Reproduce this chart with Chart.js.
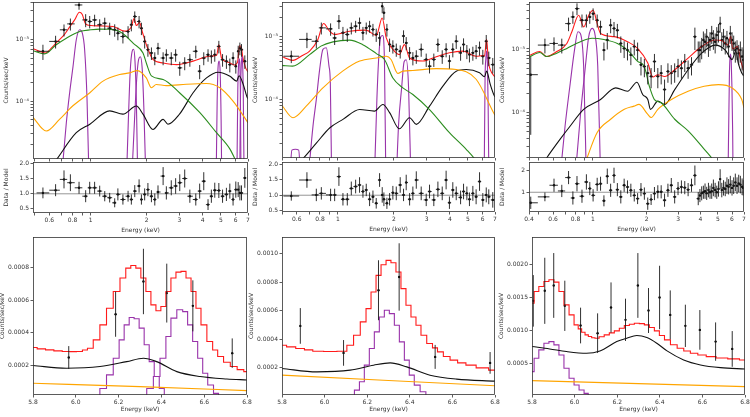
<!DOCTYPE html>
<html>
<head>
<meta charset="utf-8">
<script src="https://cdn.jsdelivr.net/npm/chart.js@4"></script>
<style>
  body { margin: 0; background: #fff; }
  #wrap { position: relative; width: 750px; height: 417px; overflow: hidden; background: #fff; }
  canvas { position: absolute; }
</style>
</head>
<body>
<div id="wrap"></div>
<script>
// ---- axis ticks and labels ----
const energyTicks = [0.5, 0.6, 0.7, 0.8, 0.9, 1, 2, 3, 4, 5, 6, 7]
const energyLabels = ['', '0.6', '', '0.8', '', '1', '2', '3', '4', '5', '6', '7']
const trEnergyTicks = [0.44, 0.5, 0.6, 0.7, 0.8, 0.9, 1, 2, 3, 4, 5, 6, 7]
const trEnergyLabels = ['0.4', '', '0.6', '', '0.8', '', '1', '2', '3', '4', '5', '6', '7']
const specYTicks = [1e-5, 2e-5, 3e-5, 4e-5, 5e-5, 6e-5, 7e-5, 8e-5, 9e-5, 1e-4, 2e-4, 3e-4, 4e-4, 5e-4, 6e-4, 7e-4, 8e-4, 9e-4, 1e-3, 2e-3, 3e-3, 4e-3, 5e-3]
const specYLabels = ['10⁻⁵', '', '', '', '', '', '', '', '', '10⁻⁴', '', '', '', '', '', '', '', '', '10⁻³', '', '', '', '']
const residTicks = [0.5, 1.0, 1.5, 2.0]
const residLabels = ['0.5', '1.0', '1.5', '2.0']
const trResidTicks = [1, 2]
const trResidLabels = ['1', '2']
const feTicks = [5.8, 6.0, 6.2, 6.4, 6.6, 6.8]
const feLabels = ['5.8', '6.0', '6.2', '6.4', '6.6', '6.8']
const blYTicks = [0.0002, 0.0004, 0.0006, 0.0008]
const blYLabels = ['0.0002', '0.0004', '0.0006', '0.0008']
const bmYTicks = [0.0002, 0.0004, 0.0006, 0.0008, 0.0010]
const bmYLabels = ['0.0002', '0.0004', '0.0006', '0.0008', '0.0010']
const brYTicks = [0.0005, 0.0010, 0.0015, 0.0020]
const brYLabels = ['0.0005', '0.0010', '0.0015', '0.0020']
const unity = 1

// ---- top left spectrum ----
const tlRed = [[0.49,7.2e-4],[0.53,6.5e-4],[0.57,6.1e-4],[0.62,7.5e-4],[0.66,9.2e-4],[0.72,1.2e-3],[0.77,1.6e-3],[0.82,2.1e-3],[0.87,2.8e-3],[0.9,2.6e-3],[0.94,1.8e-3],[1.0,1.7e-3],[1.12,1.68e-3],[1.32,1.64e-3],[1.52,1.38e-3],[1.65,1.6e-3],[1.71,2.2e-3],[1.76,1.7e-3],[1.83,1.9e-3],[1.9,1.3e-3],[2.0,8e-4],[2.16,4.8e-4],[2.45,4.2e-4],[2.9,3.95e-4],[3.55,4.5e-4],[4.36,5.4e-4],[4.75,5.6e-4],[4.88,8.3e-4],[5.05,5.0e-4],[5.5,4.3e-4],[5.9,3.9e-4],[6.15,4.3e-4],[6.3,8e-4],[6.45,7.5e-4],[6.55,5.4e-4],[6.8,3.5e-4],[7.0,3.0e-4]]
const tlGreen = [[0.49,6.65e-4],[0.566,5.9e-4],[0.65,8.2e-4],[0.74,1.06e-3],[0.873,1.36e-3],[1.0,1.45e-3],[1.12,1.49e-3],[1.25,1.48e-3],[1.43,1.36e-3],[1.555,1.13e-3],[1.69,8.8e-4],[1.91,6.1e-4],[2.0,4.0e-4],[2.12,2.6e-4],[2.45,2.27e-4],[3.0,1.38e-4],[3.85,6.6e-5],[4.74,3.1e-5],[5.6,1.68e-5],[5.95,1.17e-5],[6.3,8e-6]]
const tlOrange = [[0.49,5.5e-5],[0.577,3.3e-5],[0.68,5.1e-5],[0.80,8.4e-5],[0.99,1.38e-4],[1.165,2.13e-4],[1.43,2.72e-4],[1.62,2.9e-4],[1.78,3.16e-4],[1.99,2.4e-4],[2.12,1.66e-4],[2.25,1.88e-4],[2.55,1.8e-4],[3.27,1.9e-4],[4.19,1.95e-4],[4.94,1.66e-4],[5.83,1.0e-4],[6.81,5.1e-5],[7.0,4.5e-5]]
const tlBlack = [[0.62,9e-6],[0.66,1.17e-5],[0.837,3.1e-5],[0.99,4.26e-5],[1.265,7.0e-5],[1.49,6.2e-5],[1.76,8.4e-5],[1.91,6.2e-5],[2.16,3.5e-5],[2.45,5.1e-5],[2.6,4.26e-5],[3.0,6.2e-5],[3.55,1.38e-4],[4.19,2.4e-4],[4.84,2.97e-4],[5.6,2.56e-4],[6.08,2.13e-4],[6.27,2.6e-4],[6.6,1.88e-4],[6.9,1.2e-4],[7.0,1.1e-4]]
const tlLines = [
  [[0.695,5e-6],[0.74,4.5e-5],[0.771,1.38e-4],[0.804,3.7e-4],[0.837,1.0e-3],[0.873,1.45e-3],[0.902,1.28e-3],[0.928,6.9e-4],[0.956,1.08e-4],[0.98,5e-6]],
  [[1.555,5e-6],[1.59,4e-5],[1.63,3e-4],[1.67,6.5e-4],[1.70,7e-4],[1.73,4.5e-4],[1.76,1e-4],[1.79,5e-6]],
  [[1.66,5e-6],[1.72,5e-5],[1.77,2.5e-4],[1.81,4.8e-4],[1.85,5.3e-4],[1.89,3.5e-4],[1.93,8e-5],[1.98,5e-6]],
  [[4.72,5e-6],[4.78,1e-4],[4.84,3.8e-4],[4.9,4.5e-4],[4.96,3e-4],[5.02,5e-5],[5.06,5e-6]],
  [[6.10,5e-6],[6.17,1.5e-4],[6.22,3.6e-4],[6.27,4.9e-4],[6.32,4.3e-4],[6.37,1.4e-4],[6.42,5e-6]],
  [[6.32,5e-6],[6.38,1.3e-4],[6.44,3.8e-4],[6.49,5.4e-4],[6.54,4.5e-4],[6.6,1.5e-4],[6.67,5e-6]]
]
const tlE = [0.554,0.648,0.719,0.778,0.866,0.94,0.988,1.05,1.118,1.19,1.265,1.346,1.40,1.49,1.588,1.654,1.725,1.82,1.873,1.95,2.03,2.12,2.21,2.30,2.45,2.55,2.71,2.86,3.01,3.20,3.41,3.67,3.85,4.05,4.27,4.45,4.64,4.88,5.11,5.36,5.59,5.82,6.02,6.2,6.33,6.46,6.73]
const tlRate = [6.5e-4,9.4e-4,1.45e-3,1.81e-3,3.67e-3,2.1e-3,1.98e-3,2.1e-3,1.75e-3,1.86e-3,1.54e-3,1.45e-3,1.28e-3,1.13e-3,1.36e-3,1.75e-3,2.38e-3,1.98e-3,1.54e-3,9.4e-4,6.9e-4,6.1e-4,5.06e-4,7.3e-4,5.06e-4,5.7e-4,5.06e-4,5.7e-4,3.5e-4,4.2e-4,4.75e-4,6.5e-4,3.09e-4,5.06e-4,5.7e-4,5.4e-4,5.7e-4,7.8e-4,4.75e-4,4.47e-4,3.95e-4,5.06e-4,3.72e-4,6.5e-4,7.3e-4,6.9e-4,4.47e-4]
const tlRateErr = [1.8e-4,2.2e-4,3.2e-4,4e-4,6e-4,5e-4,4.5e-4,4.5e-4,4e-4,4.2e-4,3.5e-4,3.3e-4,3e-4,2.6e-4,3e-4,3.8e-4,5e-4,4.5e-4,3.5e-4,2.2e-4,1.6e-4,1.4e-4,1.2e-4,1.6e-4,1.2e-4,1.3e-4,1.2e-4,1.3e-4,9e-5,1e-4,1.1e-4,1.5e-4,8e-5,1.2e-4,1.3e-4,1.3e-4,1.3e-4,1.8e-4,1.1e-4,1.1e-4,1e-4,1.2e-4,9e-5,1.5e-4,1.7e-4,1.6e-4,1.1e-4]
const tlRatio = [1.03,1.12,1.48,1.37,1.2,0.92,1.2,1.2,1.09,0.92,0.87,0.7,0.98,0.81,0.92,0.81,1.09,1.26,0.81,0.98,1.14,0.92,0.81,1.06,1.59,1.03,1.2,1.26,1.37,1.51,0.92,0.81,1.09,1.42,0.64,0.92,1.12,1.11,0.92,0.98,1.09,0.81,1.14,1.14,1.03,1.03,1.53]
const tlRatioErr = [0.18,0.2,0.3,0.28,0.2,0.2,0.2,0.2,0.18,0.17,0.16,0.15,0.2,0.17,0.18,0.17,0.2,0.22,0.17,0.2,0.22,0.2,0.2,0.22,0.3,0.22,0.25,0.26,0.28,0.3,0.22,0.2,0.25,0.3,0.18,0.22,0.25,0.25,0.22,0.22,0.25,0.2,0.27,0.25,0.25,0.25,0.33]

// ---- top middle spectrum ----
const tmRed = [[0.5,4.8e-4],[0.573,4.2e-4],[0.64,5e-4],[0.704,5.9e-4],[0.78,9.1e-4],[0.837,1.63e-3],[0.902,1.23e-3],[0.96,1.09e-3],[1.155,1.23e-3],[1.42,1.28e-3],[1.61,1.05e-3],[1.73,2.0e-3],[1.82,9.6e-4],[1.975,6.3e-4],[2.14,5.2e-4],[2.28,7.5e-4],[2.43,4.6e-4],[2.86,4.1e-4],[3.38,4.8e-4],[3.98,5.55e-4],[4.7,5.9e-4],[5.54,4.9e-4],[6.0,5.0e-4],[6.15,5.0e-4],[6.31,9.1e-4],[6.45,4.0e-4],[6.6,3.0e-4],[6.95,2.35e-4],[7.0,2.3e-4]]
const tmGreen = [[0.5,3.5e-4],[0.57,3.4e-4],[0.704,5.2e-4],[0.81,7.1e-4],[0.94,8.3e-4],[1.155,8.85e-4],[1.36,7.5e-4],[1.61,5.4e-4],[1.78,4.35e-4],[1.975,2.2e-4],[2.235,1.53e-4],[2.53,1.2e-4],[3.11,6.9e-5],[3.98,2.95e-5],[4.9,1.6e-5],[5.43,1.13e-5],[6.0,7e-6]]
const tmOrange = [[0.5,8.0e-5],[0.573,5.1e-5],[0.675,7.8e-5],[0.83,1.53e-4],[1.06,2.83e-4],[1.31,4.1e-4],[1.61,4.6e-4],[1.82,4.9e-4],[1.93,4.35e-4],[2.1,2.6e-4],[2.235,2.83e-4],[2.53,2.9e-4],[3.38,3.1e-4],[4.33,3.0e-4],[5.54,2.1e-4],[6.95,5.8e-5],[7.0,5.6e-5]]
const tmBlack = [[0.6,9e-6],[0.648,1.13e-5],[0.765,2.0e-5],[0.902,3.5e-5],[1.064,4.8e-5],[1.31,6.9e-5],[1.57,6.5e-5],[1.745,8.3e-5],[1.9,6.1e-5],[2.14,3.4e-5],[2.43,5.1e-5],[2.64,4.0e-5],[3.11,7.8e-5],[3.67,1.63e-4],[4.33,2.83e-4],[4.9,3.0e-4],[5.78,2.66e-4],[6.15,2.3e-4],[6.31,2.83e-4],[6.6,1.74e-4],[6.95,1.13e-4],[7.0,1.1e-4]]
const tmLines = [
  [[0.55,5e-6],[0.565,1.55e-5],[0.59,1.6e-5],[0.615,1.55e-5],[0.63,5e-6]],
  [[0.69,5e-6],[0.734,3.75e-5],[0.765,1e-4],[0.797,3e-4],[0.83,6.3e-4],[0.866,6.7e-4],[0.895,3.4e-4],[0.91,1.85e-4],[0.925,5e-6]],
  [[1.57,5e-6],[1.62,1e-4],[1.66,5e-4],[1.70,1e-3],[1.74,1.05e-3],[1.78,4e-4],[1.81,5e-6]],
  [[2.06,5e-6],[2.12,4e-5],[2.2,1.5e-4],[2.27,4e-4],[2.33,4.3e-4],[2.4,1.5e-4],[2.47,5e-6]],
  [[6.12,5e-6],[6.19,2.2e-4],[6.25,4.5e-4],[6.31,6e-4],[6.37,3.8e-4],[6.43,8e-5],[6.49,5e-6]]
]
const tmE = [0.561,0.681,0.765,0.814,0.913,0.96,1.012,1.064,1.123,1.18,1.245,1.307,1.363,1.42,1.48,1.543,1.607,1.675,1.731,1.767,1.834,1.896,1.975,2.06,2.163,2.254,2.33,2.43,2.53,2.64,2.805,2.985,3.11,3.28,3.45,3.64,3.82,3.98,4.15,4.33,4.57,4.74,4.94,5.10,5.32,5.54,5.78,6.02,6.28,6.48,6.81]
const tmRate = [4.9e-4,9.1e-4,8.5e-4,1.39e-3,1.34e-3,9.6e-4,1.78e-3,1.16e-3,1.09e-3,1.39e-3,1.48e-3,1.67e-3,1.16e-3,1.39e-3,1.48e-3,1.31e-3,1.09e-3,9.6e-4,3.08e-3,2.42e-3,1.31e-3,7.55e-4,7.1e-4,6.3e-4,5.9e-4,1.03e-3,8.0e-4,5.55e-4,4.6e-4,4.9e-4,6.3e-4,4.35e-4,3.4e-4,4.35e-4,7.55e-4,4.9e-4,6.3e-4,4.1e-4,6.3e-4,8.5e-4,5.55e-4,7.55e-4,5.9e-4,5.2e-4,5.55e-4,5.9e-4,6.7e-4,4.9e-4,8.5e-4,4.6e-4,3.6e-4]
const tmRateErr = [1.1e-4,2.5e-4,2e-4,3e-4,3e-4,2.2e-4,4.5e-4,2.8e-4,2.6e-4,3e-4,3.2e-4,3.6e-4,2.8e-4,3e-4,3.2e-4,3e-4,2.6e-4,2.4e-4,7e-4,5.5e-4,3e-4,1.8e-4,1.7e-4,1.5e-4,1.4e-4,2.4e-4,1.9e-4,1.3e-4,1.1e-4,1.2e-4,1.5e-4,1.05e-4,8e-5,1.05e-4,1.8e-4,1.2e-4,1.6e-4,1e-4,1.6e-4,2.1e-4,1.4e-4,1.9e-4,1.5e-4,1.3e-4,1.4e-4,1.5e-4,1.7e-4,1.3e-4,2.2e-4,1.2e-4,1e-4]
const tmRatio = [0.975,1.49,1.01,1.06,1.01,1.01,1.6,0.87,0.87,1.22,1.28,1.33,1.12,1.17,0.87,0.95,0.74,1.49,1.01,0.87,0.74,0.87,1.08,1.06,1.33,1.01,1.41,0.87,1.06,1.49,1.06,0.85,1.12,0.85,1.19,1.06,1.49,0.76,1.17,1.06,0.93,1.12,1.06,0.87,1.06,0.95,1.44,0.85,1.01,0.95,0.85]
const tmRatioErr = [0.15,0.25,0.2,0.2,0.2,0.2,0.3,0.2,0.2,0.22,0.22,0.25,0.2,0.2,0.22,0.2,0.17,0.22,0.25,0.22,0.18,0.2,0.22,0.22,0.25,0.2,0.25,0.2,0.22,0.28,0.22,0.2,0.22,0.2,0.25,0.22,0.3,0.2,0.25,0.22,0.22,0.25,0.22,0.22,0.24,0.24,0.3,0.22,0.24,0.24,0.25]

// ---- top right spectrum ----
const trRed = [[0.44,7.9e-4],[0.506,9.1e-4],[0.552,7.6e-4],[0.629,9.1e-4],[0.716,1.22e-3],[0.764,1.86e-3],[0.834,3.38e-3],[0.889,2.22e-3],[0.949,3.38e-3],[1.004,4.04e-3],[1.058,2.5e-3],[1.105,1.75e-3],[1.314,1.56e-3],[1.563,1.3e-3],[1.78,1.02e-3],[2.03,6.0e-4],[2.165,3.63e-4],[2.31,3.95e-4],[2.52,3.7e-4],[2.87,4.72e-4],[3.41,7.2e-4],[4.06,1.09e-3],[4.83,1.38e-3],[5.27,1.35e-3],[5.7,1.15e-3],[5.9,1.59e-3],[6.05,1.0e-3],[6.3,1.06e-3],[6.42,1.1e-3],[6.7,6.7e-4],[7.0,4.4e-4]]
const trGreen = [[0.44,7.4e-4],[0.506,8.8e-4],[0.552,7.6e-4],[0.629,8.6e-4],[0.716,1.02e-3],[0.852,1.3e-3],[0.99,1.47e-3],[1.154,1.41e-3],[1.373,1.22e-3],[1.563,9.6e-4],[1.78,6.4e-4],[1.94,5.3e-4],[2.07,2.6e-4],[2.21,1.61e-4],[2.41,1.43e-4],[2.87,7.9e-5],[3.41,5.2e-5],[4.06,3.0e-5],[4.62,1.95e-5],[5.0,1.5e-5]]
const trOrange = [[0.9,1.5e-5],[0.929,1.95e-5],[1.058,4.9e-5],[1.258,7.9e-5],[1.5,1.13e-4],[1.7,1.27e-4],[1.81,1.35e-4],[2.03,9.4e-5],[2.12,8.4e-5],[2.31,1.13e-4],[2.75,1.61e-4],[3.41,2.17e-4],[4.19,2.6e-4],[5.04,2.76e-4],[6.0,2.45e-4],[6.8,1.61e-4],[7.0,1.2e-4]]
const trBlack = [[0.52,1.5e-5],[0.552,1.95e-5],[0.657,3.85e-5],[0.748,6.2e-5],[0.889,1.13e-4],[1.105,1.61e-4],[1.343,2.45e-4],[1.563,2.17e-4],[1.765,3.0e-4],[1.9,1.93e-4],[2.03,1.61e-4],[2.1,1.13e-4],[2.31,1.52e-4],[2.52,1.35e-4],[2.87,2.3e-4],[3.41,4.72e-4],[4.06,8.6e-4],[4.83,1.15e-3],[5.5,9.6e-4],[5.8,7.6e-4],[6.0,6.8e-4],[6.3,9.2e-4],[6.5,6.0e-4],[6.8,4.2e-4],[7.0,3.8e-4]]
const trLines = [
  [[0.657,1e-5],[0.70,6.2e-5],[0.748,2.9e-4],[0.79,9.6e-4],[0.826,1.86e-3],[0.852,1.75e-3],[0.889,5.3e-4],[0.92,1e-5]],
  [[0.798,1e-5],[0.852,8.9e-5],[0.909,5.3e-4],[0.949,1.56e-3],[0.992,2.1e-3],[1.026,1.75e-3],[1.066,5.3e-4],[1.105,1e-5]],
  [[5.7,1e-5],[5.8,3.7e-4],[5.84,7e-4],[5.89,8.3e-4],[5.94,6.3e-4],[5.99,2.7e-4],[6.05,5e-5],[6.08,1e-5]]
]
const trE = [0.450,0.540,0.607,0.671,0.732,0.774,0.816,0.870,0.921,0.962,1.004,1.058,1.105,1.154,1.205,1.258,1.314,1.372,1.434,1.497,1.563,1.632,1.705,1.780,1.859,1.942,2.028,2.118,2.211,2.309,2.411,2.518,2.63,2.746,2.868,2.995,3.128,3.266,3.41,3.562,3.72,3.885,3.97,4.06,4.15,4.24,4.33,4.43,4.52,4.62,4.72,4.83,4.93,5.04,5.15,5.26,5.38,5.50,5.62,5.74,5.87,6.0,6.13,6.26,6.40,6.54,6.68,6.83,6.93]
const trRate = [3.95e-4,1.15e-3,1.22e-3,1.15e-3,2.5e-3,3.18e-3,4.29e-3,2.82e-3,2.82e-3,3.18e-3,3.58e-3,2.82e-3,2.22e-3,9.6e-4,1.38e-3,2.36e-3,2.1e-3,1.97e-3,1.22e-3,1.02e-3,9.6e-4,8.07e-4,1.09e-3,9.6e-4,5.64e-4,5.3e-4,4.18e-4,3.72e-4,6.35e-4,3.72e-4,4.18e-4,2.31e-4,4.45e-4,4.18e-4,4.45e-4,5.3e-4,5.0e-4,6.35e-4,5.0e-4,5.64e-4,1.56e-3,9.6e-4,9.6e-4,1.09e-3,1.38e-3,1.3e-3,1.56e-3,1.15e-3,1.38e-3,1.75e-3,1.47e-3,1.3e-3,1.65e-3,1.86e-3,2.5e-3,1.38e-3,1.56e-3,1.22e-3,1.47e-3,1.09e-3,1.75e-3,1.38e-3,1.22e-3,9.6e-4,1.02e-3,8.57e-4,9.6e-4,7.6e-4,6.75e-4]
const trRateErr = [3.5e-4,3e-4,3e-4,3e-4,6e-4,7e-4,9e-4,6.5e-4,6.5e-4,7e-4,7.5e-4,6.5e-4,5.5e-4,3e-4,4e-4,6e-4,5.5e-4,5e-4,3.5e-4,3e-4,3e-4,2.5e-4,3e-4,3e-4,1.8e-4,1.7e-4,1.4e-4,1.3e-4,2e-4,1.3e-4,1.4e-4,1e-4,1.5e-4,1.4e-4,1.5e-4,1.7e-4,1.6e-4,2e-4,1.6e-4,1.8e-4,6e-4,3.5e-4,3.5e-4,4e-4,5e-4,4.5e-4,5e-4,4e-4,4.5e-4,5.5e-4,5e-4,4.5e-4,5.5e-4,6e-4,7e-4,4.5e-4,5e-4,4e-4,4.5e-4,3.5e-4,5.5e-4,4.5e-4,4e-4,3.5e-4,3.5e-4,3e-4,3.5e-4,3e-4,3e-4]
const trRatio = [0.52,0.79,1.32,1.06,1.67,0.74,1.39,0.82,1.47,1.17,0.86,1.36,1.39,0.61,1.73,1.09,1.77,1.12,0.79,1.32,1.24,1.09,0.86,0.71,1.12,0.94,0.48,0.67,0.94,1.02,1.02,0.64,1.09,1.32,0.79,1.17,1.24,1.21,1.12,1.32,1.77,0.71,0.85,0.95,1.0,1.05,0.95,1.1,1.0,1.05,1.2,1.1,1.0,1.15,1.6,1.1,1.2,1.15,1.3,1.25,1.35,1.2,1.3,1.45,1.3,1.4,1.35,1.25,1.2]
const trRatioErr = [0.28,0.2,0.3,0.28,0.3,0.3,0.35,0.3,0.35,0.3,0.28,0.3,0.32,0.25,0.35,0.3,0.35,0.3,0.3,0.3,0.3,0.3,0.28,0.25,0.3,0.28,0.28,0.25,0.3,0.3,0.3,0.3,0.3,0.33,0.3,0.3,0.3,0.3,0.3,0.3,0.45,0.3,0.3,0.32,0.3,0.35,0.3,0.33,0.3,0.35,0.38,0.33,0.3,0.35,0.45,0.33,0.35,0.33,0.38,0.35,0.4,0.35,0.38,0.4,0.38,0.4,0.4,0.38,0.35]

// ---- Fe K zooms (bottom row) ----
const blRed = [[5.8,3.1e-4],[5.839,3.02e-4],[5.878,2.96e-4],[5.917,2.9e-4],[5.956,2.86e-4],[5.988,2.85e-4],[6.019,2.86e-4],[6.043,2.95e-4],[6.066,3.06e-4],[6.097,3.57e-4],[6.128,4.49e-4],[6.159,5.5e-4],[6.191,6.53e-4],[6.222,7.35e-4],[6.245,7.96e-4],[6.269,8.12e-4],[6.292,7.96e-4],[6.316,7.35e-4],[6.339,6.53e-4],[6.363,5.71e-4],[6.386,5.35e-4],[6.409,5.61e-4],[6.433,6.53e-4],[6.456,7.35e-4],[6.48,7.71e-4],[6.503,7.76e-4],[6.527,7.35e-4],[6.55,6.53e-4],[6.573,5.5e-4],[6.597,4.49e-4],[6.628,3.47e-4],[6.651,2.95e-4],[6.675,2.55e-4],[6.706,2.2e-4],[6.738,1.94e-4],[6.77,1.75e-4],[6.8,1.63e-4]]
const blBlack = [[5.8,2.0e-4],[5.956,1.84e-4],[6.113,1.94e-4],[6.238,2.24e-4],[6.316,2.45e-4],[6.378,2.24e-4],[6.472,1.63e-4],[6.581,1.33e-4],[6.706,1.18e-4],[6.8,1.12e-4]]
const blOrange = [[5.8,9.2e-5],[6.3,7.1e-5],[6.8,4.7e-5]]
const blLines = [
  [[6.097,0],[6.128,6e-5],[6.159,1.43e-4],[6.191,2.45e-4],[6.214,3.57e-4],[6.238,4.49e-4],[6.261,4.94e-4],[6.284,4.86e-4],[6.308,4.29e-4],[6.331,3.27e-4],[6.355,2.24e-4],[6.378,1.33e-4],[6.402,6e-5],[6.425,0]],
  [[6.316,0],[6.347,6e-5],[6.378,1.33e-4],[6.409,2.45e-4],[6.433,3.78e-4],[6.456,4.9e-4],[6.488,5.41e-4],[6.511,5.3e-4],[6.534,4.49e-4],[6.558,3.47e-4],[6.581,2.45e-4],[6.605,1.53e-4],[6.628,8.1e-5],[6.659,3e-5],[6.675,0]]
]
const blE = [5.967, 6.186, 6.316, 6.425, 6.547, 6.731]
const blRate = [2.49e-4, 5.14e-4, 7.14e-4, 6.43e-4, 5.65e-4, 2.76e-4]
const blRateErr = [7e-5, 1.38e-4, 2e-4, 1.8e-4, 1.56e-4, 9e-5]

const bmRed = [[5.8,3.59e-4],[5.843,3.47e-4],[5.886,3.36e-4],[5.925,3.26e-4],[5.964,3.17e-4],[6.027,3.15e-4],[6.089,3.17e-4],[6.12,3.59e-4],[6.152,4.29e-4],[6.183,5.22e-4],[6.206,6.15e-4],[6.23,7.32e-4],[6.253,8.48e-4],[6.277,9.23e-4],[6.3,9.53e-4],[6.323,9.37e-4],[6.347,8.72e-4],[6.37,7.55e-4],[6.394,6.39e-4],[6.417,5.57e-4],[6.441,4.99e-4],[6.464,4.29e-4],[6.495,3.71e-4],[6.518,3.4e-4],[6.542,3.12e-4],[6.573,2.8e-4],[6.605,2.54e-4],[6.644,2.35e-4],[6.683,2.19e-4],[6.74,2.0e-4],[6.8,1.84e-4]]
const bmBlack = [[5.8,1.96e-4],[5.964,1.72e-4],[6.12,1.84e-4],[6.23,2.19e-4],[6.308,2.35e-4],[6.386,2.07e-4],[6.495,1.49e-4],[6.62,1.21e-4],[6.8,1.07e-4]]
const bmOrange = [[5.8,1.49e-4],[6.3,1.12e-4],[6.8,7.5e-5]]
const bmLines = [
  [[6.128,0],[6.152,4.4e-5],[6.175,1.03e-4],[6.198,2.19e-4],[6.222,3.36e-4],[6.245,4.52e-4],[6.269,5.57e-4],[6.292,6.04e-4],[6.316,5.8e-4],[6.339,4.99e-4],[6.363,3.82e-4],[6.386,2.54e-4],[6.409,1.49e-4],[6.433,7.9e-5],[6.464,3.3e-5],[6.487,0]]
]
const bmE = [5.886, 6.089, 6.253, 6.35, 6.519, 6.777]
const bmRate = [4.94e-4, 3.05e-4, 7.44e-4, 8.37e-4, 2.77e-4, 2.35e-4]
const bmRateErr = [1.25e-4, 9e-5, 2.1e-4, 2.36e-4, 8.4e-5, 7.6e-5]

const brRed = [[5.8,1.41e-3],[5.82,1.586e-3],[5.844,1.662e-3],[5.868,1.737e-3],[5.891,1.763e-3],[5.915,1.727e-3],[5.938,1.586e-3],[5.962,1.384e-3],[5.986,1.232e-3],[6.009,1.081e-3],[6.025,1.02e-3],[6.041,9.7e-4],[6.057,9.3e-4],[6.072,9.04e-4],[6.088,8.85e-4],[6.103,8.79e-4],[6.127,9.0e-4],[6.151,9.29e-4],[6.175,9.6e-4],[6.198,9.9e-4],[6.222,1.03e-3],[6.245,1.071e-3],[6.269,1.09e-3],[6.292,1.106e-3],[6.316,1.1e-3],[6.339,1.081e-3],[6.363,1.04e-3],[6.386,9.9e-4],[6.41,9.2e-4],[6.434,8.54e-4],[6.466,7.8e-4],[6.497,7.27e-4],[6.528,6.85e-4],[6.559,6.52e-4],[6.598,6.25e-4],[6.638,6.01e-4],[6.69,5.8e-4],[6.748,5.66e-4],[6.8,5.5e-4]]
const brBlack = [[5.8,7.53e-4],[5.883,7.17e-4],[5.962,6.77e-4],[6.056,6.52e-4],[6.119,6.87e-4],[6.198,8.28e-4],[6.245,8.79e-4],[6.292,9.19e-4],[6.339,8.89e-4],[6.386,8.03e-4],[6.434,6.87e-4],[6.512,5.5e-4],[6.591,4.75e-4],[6.685,4.34e-4],[6.8,4.14e-4]]
const brOrange = [[5.8,2.37e-4],[6.8,1.46e-4]]
const brLines = [
  [[5.8,3.74e-4],[5.82,5.76e-4],[5.844,7.02e-4],[5.868,8.03e-4],[5.891,8.28e-4],[5.915,7.78e-4],[5.938,6.26e-4],[5.962,4.24e-4],[5.986,2.73e-4],[6.009,1.72e-4],[6.033,9.6e-5],[6.056,4.5e-5],[6.072,0]]
]
const brE = [5.806,5.86,5.902,5.954,6.028,6.108,6.171,6.239,6.297,6.347,6.399,6.449,6.52,6.588,6.662,6.74]
const brRate = [1.444e-3,1.596e-3,1.677e-3,1.369e-3,1.071e-3,9.55e-4,1.343e-3,1.157e-3,1.677e-3,1.298e-3,1.495e-3,1.232e-3,1.066e-3,1.005e-3,8.28e-4,7.17e-4]
const brRateErr = [3.9e-4,5e-4,4.9e-4,3.8e-4,2.7e-4,3e-4,3.8e-4,3.2e-4,4.9e-4,3.4e-4,4.8e-4,3.7e-4,3.2e-4,3e-4,2.9e-4,2.7e-4]

// ---- styles ----
const ink = '#333333'
const font = { family: 'DejaVu Sans', size: 6 }
const cRed = '#ff1a1a', cGreen = '#2b8c1e', cOrange = '#ffa500', cBlack = '#111111', cPurple = '#9933aa'
Chart.defaults.font.family = 'DejaVu Sans'

const toXY = (arr) => arr.map((p) => ({ x: p[0], y: p[1] }))
const zipXY = (xs, ys) => xs.map((x, i) => ({ x: x, y: ys[i] }))

function smooth(data, color) {
  return { data: toXY(data), borderColor: color, borderWidth: 1.1, pointRadius: 0, fill: false, cubicInterpolationMode: 'monotone' }
}
function steps(data, color) {
  return { data: toXY(data), borderColor: color, borderWidth: 1.1, pointRadius: 0, fill: false, stepped: 'middle' }
}
function points(xs, ys, errs, bins) {
  return { data: zipXY(xs, ys), showLine: false, pointRadius: 1.2, pointBackgroundColor: '#000', pointBorderWidth: 0, yErr: errs, xBins: bins }
}
function findLabel(ticks, labels, v) {
  const i = ticks.findIndex((t) => Math.abs(t - v) <= Math.abs(t) * 1e-6)
  return i < 0 ? '' : labels[i]
}

// box frame like matplotlib spines
const framePlugin = {
  id: 'frame',
  afterDraw(chart) {
    const a = chart.chartArea, ctx = chart.ctx
    ctx.save()
    ctx.strokeStyle = ink
    ctx.lineWidth = 0.8
    ctx.strokeRect(a.left + 0.5, a.top + 0.5, a.right - a.left - 1, a.bottom - a.top - 1)
    ctx.restore()
  }
}
// horizontal line at ratio = 1
const unityPlugin = {
  id: 'unity',
  beforeDatasetsDraw(chart, args, opts) {
    if (opts.value === undefined) return
    const a = chart.chartArea, ctx = chart.ctx
    const y = chart.scales.y.getPixelForValue(opts.value)
    ctx.save()
    ctx.strokeStyle = '#8a8a8a'
    ctx.lineWidth = 0.9
    ctx.beginPath()
    ctx.moveTo(a.left, y)
    ctx.lineTo(a.right, y)
    ctx.stroke()
    ctx.restore()
  }
}
// error bars drawn through the chart scales
const errorBarPlugin = {
  id: 'errbars',
  afterDatasetsDraw(chart) {
    const ctx = chart.ctx, xs = chart.scales.x, ys = chart.scales.y, a = chart.chartArea
    ctx.save()
    ctx.beginPath()
    ctx.rect(a.left, a.top, a.right - a.left, a.bottom - a.top)
    ctx.clip()
    ctx.strokeStyle = '#1a1a1a'
    ctx.lineWidth = 0.9
    chart.data.datasets.forEach((ds) => {
      if (!ds.yErr) return
      const p = ds.data, n = p.length
      const mid = (i, j) => Math.sqrt(p[i].x * p[j].x)
      p.forEach((pt, i) => {
        const px = xs.getPixelForValue(pt.x)
        const lo = Math.max(pt.y - ds.yErr[i], ys.min)
        const hi = pt.y + ds.yErr[i]
        ctx.beginPath()
        ctx.moveTo(px, ys.getPixelForValue(lo))
        ctx.lineTo(px, ys.getPixelForValue(hi))
        if (ds.xBins && n > 1) {
          const xl = i > 0 ? mid(i - 1, i) : pt.x * pt.x / mid(0, 1)
          const xh = i < n - 1 ? mid(i, i + 1) : pt.x * pt.x / mid(n - 2, n - 1)
          const py = ys.getPixelForValue(pt.y)
          ctx.moveTo(xs.getPixelForValue(xl), py)
          ctx.lineTo(xs.getPixelForValue(xh), py)
        }
        ctx.stroke()
      })
    })
    ctx.restore()
  }
}
Chart.register(framePlugin, unityPlugin, errorBarPlugin)

// one matplotlib-like axes box; box = [left, top, right, bottom] of the plot area in page pixels
function panel(box, o) {
  const tp = 4, rp = 7
  const c = document.createElement('canvas')
  c.width = box[2] - box[0] + o.aw + rp
  c.height = box[3] - box[1] + tp + o.xh
  c.style.left = (box[0] - o.aw) + 'px'
  c.style.top = (box[1] - tp) + 'px'
  document.getElementById('wrap').appendChild(c)
  return new Chart(c, {
    type: 'line',
    data: { datasets: o.datasets },
    options: {
      responsive: false,
      animation: false,
      events: [],
      layout: { padding: { left: 0, right: rp, top: tp, bottom: 0 } },
      plugins: {
        legend: { display: false },
        tooltip: { enabled: false },
        unity: o.unity !== undefined ? { value: o.unity } : {}
      },
      scales: {
        x: {
          type: o.xType, min: o.xMin, max: o.xMax,
          afterBuildTicks: (s) => { s.ticks = o.xTicks.filter((v) => v >= o.xMin - 1e-9 && v <= o.xMax + 1e-9).map((v) => ({ value: v })) },
          afterFit: (s) => { s.height = o.xh; s.paddingLeft = 0; s.paddingRight = 0 },
          ticks: { autoSkip: false, maxRotation: 0, minRotation: 0, padding: 1, color: ink, font: font,
            callback: (v) => (o.xLabels ? findLabel(o.xTicks, o.xLabels, v) : '') },
          grid: { drawOnChartArea: false, tickLength: 2.5, tickColor: ink, tickWidth: 0.8 },
          border: { display: false },
          title: { display: !!o.xTitle, text: o.xTitle || '', color: ink, font: font, padding: 0 }
        },
        y: {
          type: o.yType, min: o.yMin, max: o.yMax,
          afterBuildTicks: (s) => { s.ticks = o.yTicks.filter((v) => v >= o.yMin && v <= o.yMax).map((v) => ({ value: v })) },
          afterFit: (s) => { s.width = o.aw; s.paddingTop = 0; s.paddingBottom = 0 },
          ticks: { autoSkip: false, padding: 1.5, color: ink, font: font,
            callback: (v) => findLabel(o.yTicks, o.yLabels, v) },
          grid: { drawOnChartArea: false, tickLength: 2.5, tickColor: ink, tickWidth: 0.8 },
          border: { display: false },
          title: { display: true, text: o.yTitle, color: ink, font: font, padding: 0 }
        }
      }
    }
  })
}

function spectrumSets(green, orange, black, lines, red, e, rate, err) {
  const sets = [smooth(green, cGreen), smooth(orange, cOrange), smooth(black, cBlack)]
  lines.forEach((l) => sets.push(smooth(l, cPurple)))
  sets.push(smooth(red, cRed))
  sets.push(points(e, rate, err, true))
  return sets
}
function feSets(orange, black, lines, red, e, rate, err) {
  const sets = [smooth(orange, cOrange), smooth(black, cBlack)]
  lines.forEach((l) => sets.push(steps(l, cPurple)))
  sets.push(steps(red, cRed))
  sets.push(points(e, rate, err, false))
  return sets
}

const spec = { aw: 30, xh: 3, xType: 'logarithmic', xTicks: energyTicks, yType: 'logarithmic', yTicks: specYTicks, yLabels: specYLabels, yTitle: 'Counts/sec/keV' }
const resid = { aw: 30, xh: 21, xType: 'logarithmic', xTicks: energyTicks, xLabels: energyLabels, xTitle: 'Energy (keV)', yType: 'linear', yTicks: residTicks, yLabels: residLabels, yTitle: 'Data / Model', unity: unity }
const fe = { aw: 34, xh: 18, xType: 'linear', xMin: 5.8, xMax: 6.8, xTicks: feTicks, xLabels: feLabels, xTitle: 'Energy (keV)', yType: 'linear', yTitle: 'Counts/sec/keV' }

// top row: spectra and ratios
panel([33, 2, 248, 160], Object.assign({}, spec, { xMin: 0.49, xMax: 7, yMin: 1.16e-5, yMax: 4.1e-3,
  datasets: spectrumSets(tlGreen, tlOrange, tlBlack, tlLines, tlRed, tlE, tlRate, tlRateErr) }))
panel([33, 162, 248, 213], Object.assign({}, resid, { xMin: 0.49, xMax: 7, yMin: 0.36, yMax: 2.06,
  datasets: [points(tlE, tlRatio, tlRatioErr, true)] }))

panel([282, 2, 495, 159], Object.assign({}, spec, { xMin: 0.5, xMax: 7, yMin: 1.16e-5, yMax: 3.6e-3,
  datasets: spectrumSets(tmGreen, tmOrange, tmBlack, tmLines, tmRed, tmE, tmRate, tmRateErr) }))
panel([282, 162, 495, 212], Object.assign({}, resid, { xMin: 0.5, xMax: 7, yMin: 0.46, yMax: 2.07,
  datasets: [points(tmE, tmRatio, tmRatioErr, true)] }))

panel([529, 2, 744, 159], Object.assign({}, spec, { xMin: 0.44, xMax: 7, xTicks: trEnergyTicks, yMin: 1.95e-5, yMax: 5.45e-3,
  datasets: spectrumSets(trGreen, trOrange, trBlack, trLines, trRed, trE, trRate, trRateErr) }))
panel([529, 162, 744, 212], Object.assign({}, resid, { xMin: 0.44, xMax: 7, xTicks: trEnergyTicks, xLabels: trEnergyLabels,
  yMin: 0.1, yMax: 2.38, yTicks: trResidTicks, yLabels: trResidLabels,
  datasets: [points(trE, trRatio, trRatioErr, true)] }))

// bottom row: Fe K region
panel([33, 237, 247, 395], Object.assign({}, fe, { yMin: 2e-5, yMax: 9.86e-4, yTicks: blYTicks, yLabels: blYLabels,
  datasets: feSets(blOrange, blBlack, blLines, blRed, blE, blRate, blRateErr) }))
panel([282, 237, 495, 395], Object.assign({}, fe, { yMin: 1e-5, yMax: 1.117e-3, yTicks: bmYTicks, yLabels: bmYLabels,
  datasets: feSets(bmOrange, bmBlack, bmLines, bmRed, bmE, bmRate, bmRateErr) }))
panel([532, 237, 745, 395], Object.assign({}, fe, { yMin: 2e-5, yMax: 2.41e-3, yTicks: brYTicks, yLabels: brYLabels,
  datasets: feSets(brOrange, brBlack, brLines, brRed, brE, brRate, brRateErr) }))
</script>
</body>
</html>
